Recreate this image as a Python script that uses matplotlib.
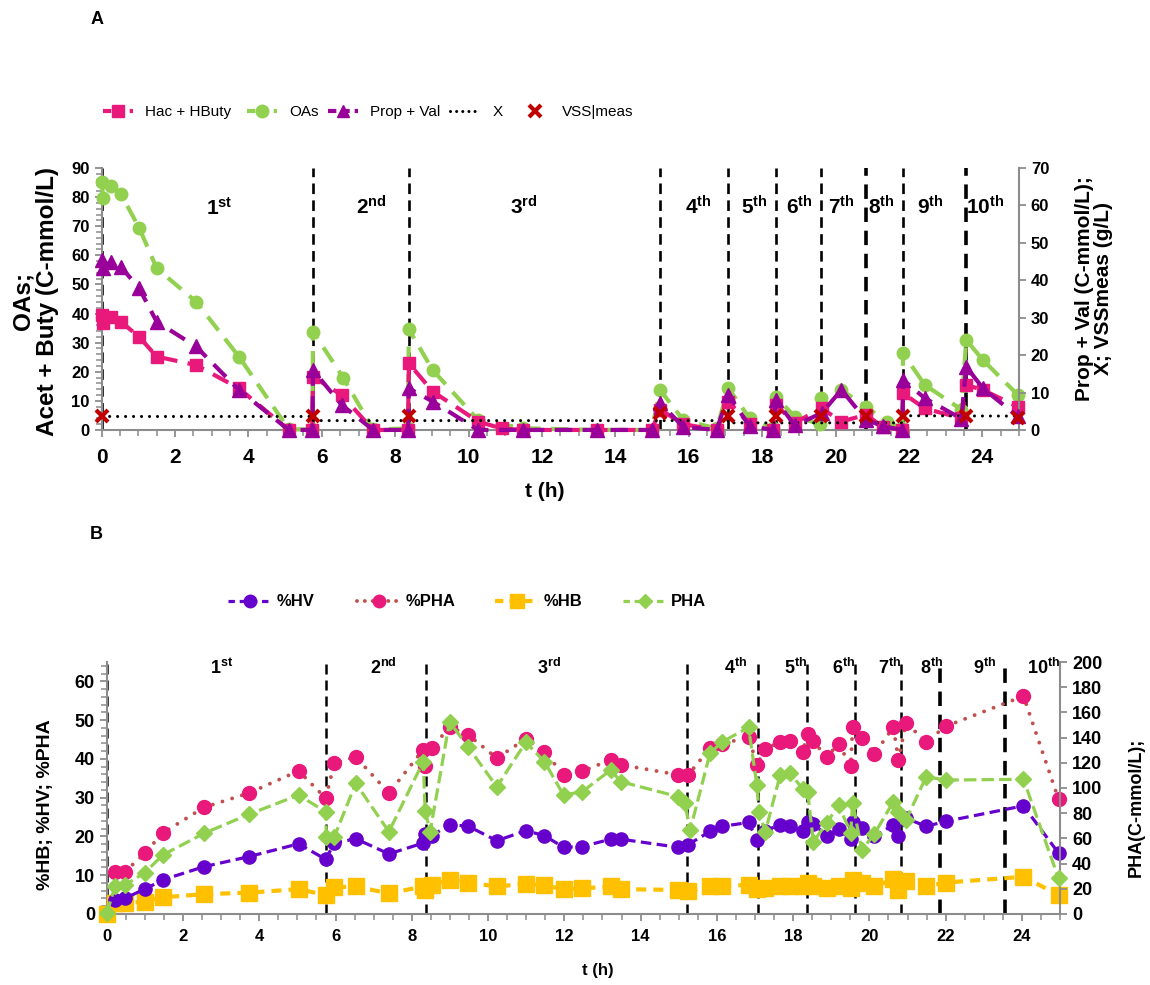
import numpy as np
import matplotlib
matplotlib.use('Agg')
import matplotlib.pyplot as plt
from matplotlib.ticker import MultipleLocator
from matplotlib.lines import Line2D
from matplotlib import font_manager
from matplotlib.font_manager import FontProperties

plt.rcParams['font.family'] = ['Liberation Sans', 'DejaVu Sans']
plt.rcParams['mathtext.fontset'] = 'custom'
plt.rcParams['mathtext.rm'] = 'Liberation Sans'
plt.rcParams['mathtext.bf'] = 'Liberation Sans:bold'
plt.rcParams['mathtext.it'] = 'Liberation Sans:italic'

# ---------------- Panel A data ----------------
oa_t = [0, 0.04, 0.25, 0.52, 1.02, 1.5, 2.57, 3.74, 5.1, 5.74, 5.76, 6.58, 7.4, 8.35, 8.37, 9.02,
        10.26, 11.49, 13.49, 14.99, 15.22, 15.85, 16.76, 17.08, 17.66, 18.3, 18.37, 18.89, 19.58,
        19.61, 20.16, 20.83, 21.39, 21.82, 21.84, 22.43, 23.43, 23.56, 24.02, 24.97]
oa = [85.1, 79.8, 83.8, 81.1, 69.5, 55.5, 44.1, 25.2, 0.2, 0.2, 33.8, 18.0, 0.2, 0.5, 34.6, 20.6,
      3.4, 0.6, 0, 0, 13.7, 3.4, 0.5, 14.3, 4.0, 0.5, 11.4, 4.6, 2.0,
      10.9, 13.7, 8.0, 2.9, 0.5, 26.3, 15.5, 7.0, 30.9, 24.0, 12.0]

hac_t = [0, 0.04, 0.25, 0.52, 1.02, 1.5, 2.57, 3.74, 5.1, 5.74, 5.76, 6.54, 7.4, 8.35, 8.37, 9.02,
         10.26, 10.9, 11.49, 13.49, 14.99, 15.22, 15.85, 16.76, 17.08, 17.66, 18.3, 18.37, 18.89,
         19.62, 20.16, 20.83, 21.3, 21.82, 21.84, 22.43, 23.43, 23.56, 24.02, 24.97]
hac = [39.5, 36.6, 38.9, 37.2, 32.0, 25.2, 22.3, 14.3, 0, 0, 18.3, 12.0, 0, 0, 22.9, 13.2,
       2.9, 0.5, 0, 0, 0, 7.0, 2.0, 0, 9.7, 2.0, 0, 8.6, 2.5,
       7.4, 2.9, 5.2, 1.0, 0, 12.6, 7.4, 4.0, 15.5, 13.7, 8.0]

pv_t = [0, 0.04, 0.25, 0.52, 1.02, 1.5, 2.57, 3.74, 5.1, 5.74, 5.76, 6.54, 7.4, 8.35, 8.37, 9.02,
        10.26, 11.49, 13.49, 14.99, 15.22, 15.85, 16.76, 17.08, 17.66, 18.3, 18.37, 18.89, 19.62,
        20.16, 20.83, 21.3, 21.82, 21.84, 22.43, 23.43, 23.56, 24.02, 24.97]
pv = [45.4, 43.2, 45.0, 43.6, 37.9, 28.9, 22.3, 10.7, 0, 0, 16.0, 6.7, 0, 0, 11.1, 7.6,
      0, 0, 0, 0, 7.2, 0.8, 0, 9.4, 1.0, 0, 8.0, 1.2, 4.5,
      10.7, 2.7, 1.0, 0, 13.4, 8.5, 3.0, 16.9, 11.1, 3.6]

x_t = [0, 5.76, 5.77, 17.07, 17.08, 21.84, 21.85, 25.0]
x_val = [3.6, 3.6, 2.5, 2.5, 1.9, 1.9, 3.8, 3.7]

vss_t = [0, 5.76, 8.37, 15.22, 17.08, 18.37, 19.61, 20.83, 21.84, 23.56, 24.97]
vss = [3.6, 3.6, 3.7, 4.5, 3.7, 3.8, 3.6, 3.8, 3.8, 3.6, 3.2]

# ---------------- Panel B data ----------------
tb = [0, 0.22, 0.48, 1.0, 1.47, 2.55, 3.73, 5.03, 5.74, 5.97, 6.53, 7.4, 8.3, 8.35, 8.52, 8.99,
      9.47, 10.23, 10.99, 11.48, 11.98, 12.47, 13.22, 13.48, 14.99, 15.25, 15.82, 16.13, 16.83,
      17.05, 17.27, 17.66, 17.92, 18.25, 18.38, 18.53, 18.88, 19.19, 19.51, 19.56, 19.8, 20.13,
      20.63, 20.76, 20.96, 21.49, 22.0, 24.04, 24.96]
hv = [np.nan, 3.5, 4.1, 6.4, 8.8, 12.2, 14.8, 18.1, 14.1, 18.3, 19.4, 15.5, 18.3, 20.6, 20.2, 23.0,
      22.7, 18.9, 21.5, 20.2, 17.2, 17.4, 19.3, 19.3, 17.2, 17.9, 21.3, 22.6, 23.6,
      19.1, 21.5, 23.0, 22.6, 21.5, 23.6, 23.3, 20.2, 21.9, 19.3, 23.6, 22.1, 20.0,
      23.0, 20.0, 24.7, 22.6, 23.9, 27.9, 15.7]
pha_pct = [np.nan, 10.9, 10.9, 15.7, 20.9, 27.5, 31.2, 36.9, 29.9, 38.9, 40.5, 31.2, 42.4, 38.1, 42.8, 48.2,
           46.3, 40.2, 45.2, 41.9, 35.9, 36.8, 39.8, 38.5, 35.9, 35.9, 42.8, 43.8, 45.7,
           38.5, 42.6, 44.4, 44.5, 41.9, 46.5, 44.5, 40.5, 43.9, 38.2, 48.2, 45.4, 41.3,
           48.2, 39.8, 49.3, 44.4, 48.4, 56.2, 29.6]
hb = [0, 2.8, 2.8, 3.2, 4.3, 5.1, 5.5, 6.4, 4.9, 6.9, 7.1, 5.3, 7.1, 6.2, 7.5, 8.8,
      8.1, 7.1, 7.8, 7.4, 6.4, 6.6, 7.1, 6.4, 6.2, 6.0, 7.1, 7.2, 7.5,
      6.4, 6.6, 7.1, 7.3, 7.2, 7.9, 7.1, 6.6, 7.2, 6.6, 8.8, 7.9, 7.1,
      9.0, 6.2, 8.4, 7.1, 8.1, 9.6, 4.9]

pha_t = [0, 0.22, 0.48, 1.0, 1.47, 2.55, 3.73, 5.03, 5.74, 5.76, 5.97, 6.53, 7.4, 8.3, 8.35, 8.48,
         8.99, 9.47, 10.23, 10.99, 11.48, 11.98, 12.47, 13.22, 13.48, 14.99, 15.16, 15.3, 15.82,
         16.13, 16.83, 17.05, 17.1, 17.27, 17.66, 17.92, 18.25, 18.38, 18.53, 18.88, 19.19, 19.51,
         19.56, 19.8, 20.13, 20.63, 20.76, 20.96, 21.49, 22.0, 24.04, 24.96]
pha = [0.5, 22.2, 23.0, 32.8, 46.8, 64.0, 79.1, 94.4, 81.2, 60.9, 61.4, 103.7, 65.3, 120.9, 82.0, 65.3,
       152.6, 132.8, 101.0, 136.3, 120.9, 94.4, 97.1, 114.3, 105.0, 93.1, 87.8, 66.7, 127.5,
       136.4, 148.1, 102.4, 81.2, 65.3, 110.3, 112.2, 99.0, 97.1, 57.4, 72.0, 86.5, 64.5,
       88.4, 50.8, 63.5, 89.2, 81.2, 74.6, 109.0, 106.3, 106.9, 28.3]

# batch boundaries and labels
batch_lines = [0, 5.76, 8.37, 15.22, 17.08, 18.37, 19.61, 20.83, 21.84, 23.56]
batch_nums = ['1', '2', '3', '4', '5', '6', '7', '8', '9', '10']
batch_sfx = ['st', 'nd', 'rd', 'th', 'th', 'th', 'th', 'th', 'th', 'th']
labA_x = [3.2, 7.34, 11.51, 16.25, 17.8, 19.0, 20.15, 21.26, 22.57, 24.07]
labB_x = [3.01, 7.26, 11.59, 16.48, 18.06, 19.32, 20.54, 21.63, 23.02, 24.57]

xticks = [0, 2, 4, 6, 8, 10, 12, 14, 16, 18, 20, 22, 24]

legA_labels = ['Hac + HButy', 'OAs', 'Prop + Val', 'X', 'VSS|meas']
legB_labels = ['%HV', '%PHA', '%HB', 'PHA']

# ---------------- colours ----------------
PINK = '#E8197A'
GREEN = '#92D050'
PURPLE = '#990099'
RED = '#C00000'
VIOLET = '#6600CC'
BROWN = '#C0504D'
YELLOW = '#FFC000'
GRAY = '#8C8C8C'

# narrow font for the legends if available
_names = {f.name for f in font_manager.fontManager.ttflist}
_narrow = None
for _c in ['Liberation Sans Narrow', 'Arial Narrow']:
    if _c in _names:
        _narrow = _c
        break
if _narrow:
    legA_prop = FontProperties(family=_narrow, size=13)
    legB_prop = FontProperties(family=_narrow, size=13, weight='bold')
    legA_x = [125, 247, 327, 437, 512]
else:
    legA_prop = FontProperties(family='Liberation Sans', size=11)
    legB_prop = FontProperties(family='Liberation Sans', size=12, weight='bold')
    legA_x = [103, 247, 328, 450, 520]

fig = plt.figure(figsize=(11.5, 9.85), dpi=100)
axA = fig.add_axes([0.0884, 0.5635, 0.7977, 0.266])
axA2 = axA.twinx()
axB = fig.add_axes([0.0928, 0.0721, 0.829, 0.2558])
axB2 = axB.twinx()


def style_axes(ax, ax2):
    for a in (ax, ax2):
        a.spines['top'].set_visible(False)
    ax.spines['right'].set_visible(False)
    ax2.spines['left'].set_visible(False)
    ax2.spines['bottom'].set_visible(False)
    for s in ('left', 'bottom'):
        ax.spines[s].set_color(GRAY)
        ax.spines[s].set_linewidth(1.5)
    ax2.spines['right'].set_color(GRAY)
    ax2.spines['right'].set_linewidth(1.5)
    ax.tick_params(axis='both', which='major', direction='out', color=GRAY, width=1.3, length=5)
    ax.tick_params(axis='both', which='minor', direction='out', color=GRAY, width=1.1, length=4)
    ax2.tick_params(axis='y', which='major', direction='out', color=GRAY, width=1.3, length=5)
    ax.set_xlim(0, 25)
    ax.xaxis.set_minor_locator(MultipleLocator(0.5))
    ax.yaxis.set_minor_locator(MultipleLocator(2))
    ax.set_xticks(xticks)


def place_legend(handle, label, x_px, y_frac, prop, hl, pad):
    fig.legend([handle], [label], loc='center left',
               bbox_to_anchor=(x_px / 1150.0, y_frac), frameon=False, prop=prop,
               handlelength=hl, handletextpad=pad, borderaxespad=0, borderpad=0,
               numpoints=1)


# ---------------- Panel A ----------------
style_axes(axA, axA2)
axA.set_ylim(0, 90)
axA.set_yticks(range(0, 91, 10))
axA2.set_ylim(0, 70)
axA2.set_yticks(range(0, 71, 10))

for i, xv in enumerate(batch_lines):
    lw = 2.6 if i in (7, 9) else 1.9
    axA.axvline(xv, color='black', lw=lw, ls=(0, (4.0, 2.4)), zorder=1)

axA.plot(oa_t, oa, color=GREEN, lw=3, ls=(0, (4.2, 2.5)), marker='o', ms=9,
         mfc=GREEN, mec=GREEN, zorder=3, clip_on=False)
axA.plot(hac_t, hac, color=PINK, lw=3, ls=(0, (4.2, 2.5)), marker='s', ms=9,
         mfc=PINK, mec=PINK, zorder=4, clip_on=False)
axA2.plot(pv_t, pv, color=PURPLE, lw=3, ls=(0, (4.2, 2.5)), marker='^', ms=9.5,
          mfc=PURPLE, mec=PURPLE, zorder=3, clip_on=False)
axA2.plot(x_t, x_val, color='black', lw=2.2, ls=(0, (0.01, 2.6)), dash_capstyle='round', zorder=2)
axA2.plot(vss_t, vss, ls='none', marker='x', ms=9, mew=3, color=RED, zorder=5, clip_on=False)

for xv, n, s in zip(labA_x, batch_nums, batch_sfx):
    axA.text(xv, 73.9, r'$\mathbf{%s^{%s}}$' % (n, s), ha='center', va='baseline',
             fontsize=15, zorder=6)

plt.setp(axA.get_xticklabels(), fontsize=15, fontweight='bold')
plt.setp(axA.get_yticklabels(), fontsize=12, fontweight='bold')
plt.setp(axA2.get_yticklabels(), fontsize=12, fontweight='bold')
axA.tick_params(axis='x', pad=8)

fig.text(0.474, 0.5015, 't (h)', fontsize=15, fontweight='bold', ha='center', va='center')
fig.text(0.0305, 0.694, 'OAs;\nAcet + Buty (C-mmol/L)', rotation=90, fontsize=17.5,
         fontweight='bold', ha='center', va='center', linespacing=1.08, multialignment='center')
fig.text(0.951, 0.707, 'Prop + Val (C-mmol/L);\nX; VSSmeas (g/L)', rotation=90, fontsize=15,
         fontweight='bold', ha='center', va='center', linespacing=1.0, multialignment='center')
fig.text(0.084, 0.980, 'A', fontsize=13, fontweight='bold', ha='center', va='center')

legA_handles = [
    Line2D([], [], color=PINK, lw=3, ls=(0, (2, 1.2)), marker='s', ms=9, mfc=PINK, mec=PINK),
    Line2D([], [], color=GREEN, lw=3, ls=(0, (2, 1.2)), marker='o', ms=9, mfc=GREEN, mec=GREEN),
    Line2D([], [], color=PURPLE, lw=3, ls=(0, (2, 1.2)), marker='^', ms=9, mfc=PURPLE, mec=PURPLE),
    Line2D([], [], color='black', lw=2.2, ls=(0, (0.01, 2.0)), dash_capstyle='round'),
    Line2D([], [], ls='none', marker='x', ms=8, mew=3, color=RED),
]
for h, l, xp in zip(legA_handles, legA_labels, legA_x):
    place_legend(h, l, xp, 0.886, legA_prop, 30 / (legA_prop.get_size() * 1.389), 0.8)

# ---------------- Panel B ----------------
style_axes(axB, axB2)
axB.set_ylim(0, 65)
axB.set_yticks(range(0, 61, 10))
axB2.set_ylim(0, 200)
axB2.set_yticks(range(0, 201, 20))

for i, xv in enumerate(batch_lines):
    lw = 2.6 if i in (8, 9) else 1.8
    axB.axvline(xv, color='black', lw=lw, ls=(0, (4.0, 2.4)), zorder=1)

axB.plot(tb, hb, color=YELLOW, lw=3, ls=(0, (2.4, 1.7)), marker='s', ms=11,
         mfc=YELLOW, mec=YELLOW, zorder=3, clip_on=False)
axB.plot(tb, hv, color=VIOLET, lw=2.3, ls=(0, (3.3, 1.7)), marker='o', ms=9.5,
         mfc=VIOLET, mec=VIOLET, zorder=4, clip_on=False)
axB.plot(tb, pha_pct, color=BROWN, lw=2.8, ls=(0, (0.01, 2.6)), dash_capstyle='round',
         marker='o', ms=10, mfc=PINK, mec=PINK, zorder=5, clip_on=False)
axB2.plot(pha_t, pha, color=GREEN, lw=2.3, ls=(0, (3.9, 1.6)), marker='D', ms=8,
          mfc=GREEN, mec=GREEN, zorder=3, clip_on=False)

for xv, n, s in zip(labB_x, batch_nums, batch_sfx):
    axB.text(xv, 61.8, r'$\mathbf{%s^{%s}}$' % (n, s), ha='center', va='baseline',
             fontsize=13, zorder=6)

plt.setp(axB.get_xticklabels(), fontsize=12, fontweight='bold')
plt.setp(axB.get_yticklabels(), fontsize=13, fontweight='bold')
plt.setp(axB2.get_yticklabels(), fontsize=13, fontweight='bold')
axB.tick_params(axis='x', pad=6)

fig.text(0.52, 0.0152, 't (h)', fontsize=12, fontweight='bold', ha='center', va='center')
fig.text(0.040, 0.183, '%HB; %HV; %PHA', rotation=90, fontsize=14,
         fontweight='bold', ha='center', va='center')
fig.text(0.988, 0.18, 'PHA(C-mmol/L);', rotation=90, fontsize=13,
         fontweight='bold', ha='center', va='center')
fig.text(0.084, 0.457, 'B', fontsize=13, fontweight='bold', ha='center', va='center')

legB_handles = [
    Line2D([], [], color=VIOLET, lw=2.3, ls=(0, (2, 1.5)), marker='o', ms=9, mfc=VIOLET, mec=VIOLET),
    Line2D([], [], color=BROWN, lw=2.8, ls=(0, (0.01, 2.0)), dash_capstyle='round',
           marker='o', ms=9, mfc=PINK, mec=PINK),
    Line2D([], [], color=YELLOW, lw=3, ls=(0, (2, 1.5)), marker='s', ms=10, mfc=YELLOW, mec=YELLOW),
    Line2D([], [], color=GREEN, lw=2.3, ls=(0, (2, 1.5)), marker='D', ms=7, mfc=GREEN, mec=GREEN),
]
legB_x = [228, 357, 495, 623]
for h, l, xp in zip(legB_handles, legB_labels, legB_x):
    place_legend(h, l, xp, 0.389, legB_prop, 44 / (legB_prop.get_size() * 1.389), 0.25)

fig.savefig('out.png', dpi=100)
